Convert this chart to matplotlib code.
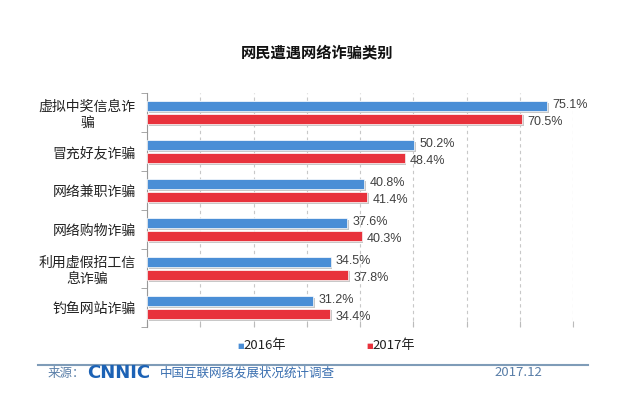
import matplotlib.pyplot as plt
import numpy as np

plt.rcParams['font.family'] = ['Noto Sans CJK SC', 'DejaVu Sans']

categories = ['虚拟中奖信息诈\n骗', '冒充好友诈骗', '网络兼职诈骗', '网络购物诈骗',
              '利用虚假招工信\n息诈骗', '钓鱼网站诈骗']
v2016 = [75.1, 50.2, 40.8, 37.6, 34.5, 31.2]
v2017 = [70.5, 48.4, 41.4, 40.3, 37.8, 34.4]

blue = '#4a8ed6'
red = '#e8323c'

fig = plt.figure(figsize=(6.3, 3.98), dpi=100)

ax = fig.add_axes([147 / 630, 1 - 327 / 398, (573 - 147) / 630, (327 - 93) / 398])
ax.set_facecolor('none')
y = np.arange(len(categories))
h = 0.26
off = 0.165
ax.barh(y - off, v2016, height=h, color=blue, edgecolor='white', linewidth=0.5, zorder=3)
ax.barh(y + off, v2017, height=h, color=red, edgecolor='white', linewidth=0.5, zorder=3)
# shadows
ax.barh(y - off + 0.04, v2016, height=h, left=0.3, color='#c8c8c8', zorder=2)
ax.barh(y + off + 0.04, v2017, height=h, left=0.3, color='#c8c8c8', zorder=2)

for yi, a, b in zip(y, v2016, v2017):
    ax.text(a + 1.0, yi - off - 0.02, f'{a}%', va='center', ha='left', fontsize=9,
            color='#404040', family='Liberation Sans')
    ax.text(b + 1.0, yi + off + 0.08, f'{b}%', va='center', ha='left', fontsize=9,
            color='#404040', family='Liberation Sans')

ax.set_xlim(0, 80)
ax.set_ylim(len(categories) - 0.5, -0.5)
ax.set_xticks(np.arange(0, 81, 10))
ax.set_xticklabels([])
ax.tick_params(axis='x', length=4, color='#bbbbbb', direction='in')
ax.xaxis.grid(True, linestyle=(0, (3, 3)), color='#c8c8c8', linewidth=0.8, zorder=0)
ax.set_yticks(np.arange(-0.5, len(categories), 1), minor=True)
ax.set_yticks(y)
ax.set_yticklabels(categories, fontsize=10, color='#222222', multialignment='center')
ax.tick_params(axis='y', which='major', length=0, pad=8)
ax.tick_params(axis='y', which='minor', length=4, color='#999999', direction='out')
for s in ['top', 'right', 'bottom']:
    ax.spines[s].set_visible(False)
ax.spines['left'].set_color('#999999')

fig.text(0.503, 1 - 52 / 398, '网民遭遇网络诈骗类别', fontsize=11, fontweight='bold',
         ha='center', va='center', color='#111111')

# legend
fig.text(237 / 630, 1 - 346 / 398, '■', color=blue, fontsize=5, ha='left', va='center',
         family='DejaVu Sans')
fig.text(243 / 630, 1 - 346 / 398, '2016年', color='#222222', fontsize=9.5, ha='left', va='center')
fig.text(366 / 630, 1 - 346 / 398, '■', color=red, fontsize=5, ha='left', va='center',
         family='DejaVu Sans')
fig.text(372 / 630, 1 - 346 / 398, '2017年', color='#222222', fontsize=9.5, ha='left', va='center')

# footer
fig.add_artist(plt.Line2D([38 / 630, 588 / 630], [1 - 365 / 398, 1 - 365 / 398],
                          color='#7f9cb8', linewidth=1.5))
fig.text(48 / 630, 1 - 373 / 398, '来源：', fontsize=9, color='#5a7fa8', ha='left', va='center')
fig.text(87 / 630, 1 - 373 / 398, 'CNNIC', fontsize=13, fontweight='bold', color='#1c62b5',
         ha='left', va='center', family='DejaVu Sans')
fig.text(160 / 630, 1 - 373 / 398, '中国互联网络发展状况统计调查', fontsize=9, color='#3a6fb0',
         ha='left', va='center')
fig.text(494 / 630, 1 - 373 / 398, '2017.12', fontsize=9.5, color='#5a7fa8',
         ha='left', va='center')

fig.savefig('out.png', dpi=100)
